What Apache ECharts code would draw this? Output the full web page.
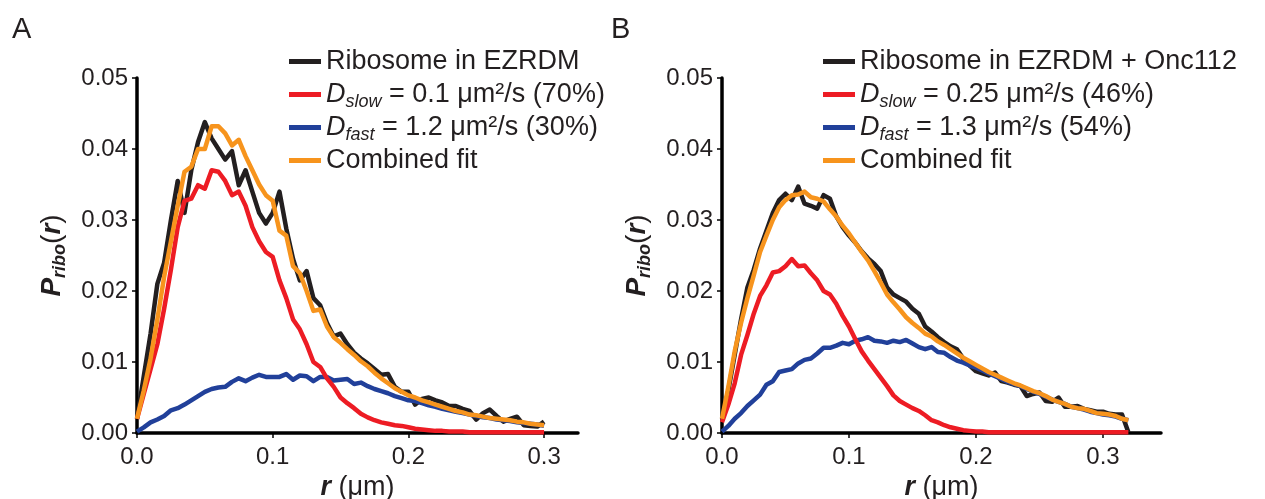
<!DOCTYPE html>
<html>
<head>
<meta charset="utf-8">
<script src="https://cdn.jsdelivr.net/npm/echarts@6/dist/echarts.min.js"></script>
<style>
  html, body { margin: 0; padding: 0; background: #fff; }
  #chart { width: 1265px; height: 499px; }
</style>
</head>
<body>
<div id="chart"></div>
<script>
// r 值 (μm)，步长 0.005
var rA = [0, 0.005, 0.01, 0.015, 0.02, 0.025, 0.03, 0.035, 0.04, 0.045,
  0.05, 0.055, 0.06, 0.065, 0.07, 0.075, 0.08, 0.085, 0.09, 0.095,
  0.1, 0.105, 0.11, 0.115, 0.12, 0.125, 0.13, 0.135, 0.14, 0.145,
  0.15, 0.155, 0.16, 0.165, 0.17, 0.175, 0.18, 0.185, 0.19, 0.195,
  0.2, 0.205, 0.21, 0.215, 0.22, 0.225, 0.23, 0.235, 0.24, 0.245,
  0.25, 0.255, 0.26, 0.265, 0.27, 0.275, 0.28, 0.285, 0.29, 0.295,
  0.3];
var rB = rA.concat([0.305, 0.31, 0.315, 0.32]);

// 面板 A: Ribosome in EZRDM
var ribosomeA = [0.002, 0.008, 0.014, 0.021, 0.024, 0.030, 0.0355, 0.031, 0.037, 0.041,
  0.0438, 0.0415, 0.040, 0.0385, 0.0397, 0.0349, 0.037, 0.034, 0.031, 0.0295,
  0.031, 0.034, 0.0288, 0.0245, 0.0215, 0.0228, 0.019, 0.018, 0.0155, 0.0136,
  0.014, 0.0125, 0.0113, 0.0105, 0.0098, 0.009, 0.0082, 0.0083, 0.0065, 0.0058,
  0.0058, 0.0040, 0.0048, 0.005, 0.0046, 0.0043, 0.0038, 0.0038, 0.0034, 0.0031,
  0.0019, 0.0028, 0.0033, 0.0024, 0.0016, 0.002, 0.0023, 0.0011, 0.001, 0.0009,
  0.0016];
var slowA = [0.002, 0.0055, 0.009, 0.0125, 0.0175, 0.023, 0.029, 0.0327, 0.033, 0.0349,
  0.0344, 0.037, 0.0368, 0.0355, 0.0335, 0.034, 0.032, 0.029, 0.027, 0.0255,
  0.0248, 0.0215, 0.019, 0.016, 0.0146, 0.0125, 0.010, 0.0093, 0.0077, 0.0065,
  0.005, 0.0042, 0.0035, 0.0027, 0.0022, 0.0018, 0.0015, 0.0013, 0.0011, 0.001,
  0.0008, 0.0006, 0.0005, 0.0004, 0.0003, 0.0003, 0.0002, 0.0002, 0.0002, 0.0001,
  0.0001, 0.0001, 0.0001, 0.0001, 0.0001, 0.0001, 0.0001, 0.0001, 0.0001, 0.0001,
  0.0001];
var fastA = [0.0002, 0.0008, 0.0015, 0.0019, 0.0024, 0.0032, 0.0035, 0.004, 0.0046, 0.0052,
  0.0058, 0.0062, 0.0064, 0.0065, 0.0072, 0.0077, 0.0073, 0.0078, 0.0082, 0.0079,
  0.0079, 0.0079, 0.0083, 0.0075, 0.0081, 0.008, 0.0073, 0.0079, 0.0079, 0.0074,
  0.0075, 0.0076, 0.0069, 0.0071, 0.0066, 0.0062, 0.0059, 0.0056, 0.0052, 0.0049,
  0.0046, 0.0045, 0.0042, 0.0039, 0.0037, 0.0034, 0.0032, 0.003, 0.0028, 0.0026,
  0.0024, 0.0022, 0.0021, 0.0019, 0.0018, 0.0017, 0.0015, 0.0014, 0.0013, 0.0012,
  0.001];
var fitA = [0.002, 0.006, 0.0105, 0.016, 0.022, 0.027, 0.032, 0.0368, 0.0375, 0.040,
  0.040, 0.0432, 0.0432, 0.0422, 0.0405, 0.0413, 0.039, 0.037, 0.035, 0.0335,
  0.0327, 0.0285, 0.0278, 0.0235, 0.0225, 0.020, 0.0172, 0.0174, 0.015, 0.0135,
  0.0127, 0.0118, 0.011, 0.0101, 0.0094, 0.0085, 0.0077, 0.007, 0.0063, 0.0058,
  0.0053, 0.005, 0.0046, 0.0043, 0.004, 0.0037, 0.0034, 0.0031, 0.0029, 0.0026,
  0.0025, 0.0023, 0.0021, 0.002, 0.0019, 0.0018, 0.0016, 0.0015, 0.0013, 0.0012,
  0.0011];

// 面板 B: Ribosome in EZRDM + Onc112
var ribosomeB = [0.002, 0.006, 0.011, 0.016, 0.0205, 0.023, 0.026, 0.0285, 0.031, 0.0328,
  0.0337, 0.0328, 0.0347, 0.0323, 0.032, 0.0316, 0.0335, 0.033, 0.0305, 0.029,
  0.0278, 0.0268, 0.0256, 0.0246, 0.0238, 0.0228, 0.0205, 0.0195, 0.019, 0.0185,
  0.0175, 0.0168, 0.015, 0.0143, 0.0135, 0.0128, 0.0122, 0.0118, 0.0105, 0.0095,
  0.0087, 0.0084, 0.0081, 0.0085, 0.0073, 0.0071, 0.0068, 0.0066, 0.0052, 0.0055,
  0.0057, 0.0045, 0.0044, 0.005, 0.0037, 0.0037, 0.0038, 0.0034, 0.0032, 0.003,
  0.003, 0.0027, 0.0026, 0.0026, 0.0001];
var slowB = [0.0015, 0.004, 0.007, 0.011, 0.0138, 0.0168, 0.0193, 0.0208, 0.0226, 0.0228,
  0.0235, 0.0245, 0.0235, 0.0236, 0.0225, 0.0215, 0.020, 0.0195, 0.0182, 0.0165,
  0.015, 0.0132, 0.0115, 0.0102, 0.009, 0.0078, 0.0066, 0.0053, 0.0045, 0.004,
  0.0035, 0.0031, 0.0025, 0.0018, 0.0015, 0.0011, 0.0008, 0.0006, 0.0004, 0.0003,
  0.0002, 0.0002, 0.0001, 0.0001, 0.0001, 0.0001, 0.0001, 0.0001, 0.0001, 0.0001,
  0.0001, 0.0001, 0.0001, 0.0001, 0.0001, 0.0001, 0.0001, 0.0001, 0.0001, 0.0001,
  0.0001, 0.0001, 0.0001, 0.0001, 0.0001];
var fastB = [0.0002, 0.001, 0.002, 0.0028, 0.0038, 0.0046, 0.0054, 0.0068, 0.0073, 0.0086,
  0.0088, 0.009, 0.0098, 0.0103, 0.0105, 0.0112, 0.012, 0.012, 0.0123, 0.0127,
  0.0125, 0.013, 0.0132, 0.0135, 0.013, 0.0129, 0.0127, 0.013, 0.0128, 0.0131,
  0.0126, 0.0121, 0.0118, 0.0121, 0.0114, 0.0113, 0.0107, 0.0102, 0.0099, 0.0095,
  0.0092, 0.0088, 0.0084, 0.008, 0.0076, 0.0072, 0.0069, 0.0066, 0.0062, 0.0058,
  0.0055, 0.0051, 0.0047, 0.0044, 0.0041, 0.0037, 0.0035, 0.0033, 0.003, 0.0028,
  0.0026, 0.0025, 0.0023, 0.002, 0.0018];
var fitB = [0.002, 0.0065, 0.0115, 0.0155, 0.019, 0.0222, 0.0255, 0.0278, 0.030, 0.0318,
  0.0328, 0.0335, 0.0336, 0.034, 0.0332, 0.033, 0.0326, 0.0315, 0.0305, 0.0292,
  0.0281, 0.0268, 0.0255, 0.0243, 0.0228, 0.0212, 0.0195, 0.0184, 0.0174, 0.0163,
  0.0155, 0.0148, 0.014, 0.0136, 0.0129, 0.0124, 0.0118, 0.0112, 0.0106, 0.0101,
  0.0096, 0.0091, 0.0086, 0.0082, 0.0078, 0.0074, 0.007, 0.0067, 0.0063, 0.0059,
  0.0056, 0.0052, 0.0047, 0.0044, 0.0041, 0.0037, 0.0035, 0.0034, 0.0031, 0.0028,
  0.0027, 0.0026, 0.0024, 0.002, 0.0018];

var xTicks = [0, 0.1, 0.2, 0.3];

var FONT = '"Liberation Sans", Arial, sans-serif';
var INK = '#231f20';
var colors = { black: '#231f20', red: '#ed1c24', blue: '#21409a', orange: '#f7941d' };

// 图例文字（含上下标）
var legendText = {
  'Ribosome in EZRDM': 'Ribosome in EZRDM',
  'Ribosome in EZRDM + Onc112': 'Ribosome in EZRDM + Onc112',
  'slowA': '{i|D}{sub|slow}{n| = 0.1 μm²/s (70%)}',
  'fastA': '{i|D}{sub|fast}{n| = 1.2 μm²/s (30%)}',
  'slowB': '{i|D}{sub|slow}{n| = 0.25 μm²/s (46%)}',
  'fastB': '{i|D}{sub|fast}{n| = 1.3 μm²/s (54%)}',
  'fitA': 'Combined fit',
  'fitB': 'Combined fit'
};

function pairs(xs, ys) {
  return xs.map(function (x, i) { return [x, ys[i]]; });
}

function makeLine(name, idx, xs, ys, color) {
  return {
    name: name,
    type: 'line',
    xAxisIndex: idx,
    yAxisIndex: idx,
    data: pairs(xs, ys),
    showSymbol: false,
    symbol: 'none',
    animation: false,
    itemStyle: { color: color },
    lineStyle: { color: color, width: 4.5, join: 'round' }
  };
}

function makeLegend(left, names) {
  var LH = 33;
  return {
    left: left,
    top: 45,
    orient: 'vertical',
    padding: 0,
    itemGap: 0,
    itemWidth: 32,
    itemHeight: 5,
    icon: 'rect',
    selectedMode: false,
    data: names,
    formatter: function (name) { return legendText[name]; },
    textStyle: {
      fontFamily: FONT, fontSize: 27, color: INK, lineHeight: LH,
      rich: {
        i: { fontFamily: FONT, fontSize: 27, fontStyle: 'italic', lineHeight: LH, color: INK },
        sub: { fontFamily: FONT, fontSize: 18, fontStyle: 'italic', lineHeight: LH, color: INK, verticalAlign: 'bottom' },
        n: { fontFamily: FONT, fontSize: 27, lineHeight: LH, color: INK }
      }
    }
  };
}

function makeXAxis(idx, max) {
  return {
    type: 'value',
    gridIndex: idx,
    min: 0,
    max: max,
    interval: 0.1,
    splitLine: { show: false },
    axisLine: { show: true, onZero: false, lineStyle: { color: '#000', width: 3.5 } },
    axisTick: { show: true, length: 5, lineStyle: { color: '#000', width: 1.5 }, customValues: xTicks },
    axisLabel: {
      fontFamily: FONT, fontSize: 24, color: INK, margin: 12,
      customValues: xTicks,
      formatter: function (v) { return v.toFixed(1); }
    },
    name: '{b|r}{n| (μm)}',
    nameLocation: 'middle',
    nameGap: 34,
    nameTextStyle: {
      rich: {
        b: { fontFamily: FONT, fontSize: 27, fontWeight: 'bold', fontStyle: 'italic', color: INK },
        n: { fontFamily: FONT, fontSize: 27, color: INK }
      }
    }
  };
}

function makeYAxis(idx) {
  var LH = 34;
  return {
    type: 'value',
    gridIndex: idx,
    min: 0,
    max: 0.05,
    interval: 0.01,
    splitLine: { show: false },
    axisLine: { show: true, onZero: false, lineStyle: { color: '#000', width: 3.5 } },
    axisTick: { show: true, length: 5, lineStyle: { color: '#000', width: 1.5 } },
    axisLabel: {
      fontFamily: FONT, fontSize: 24, color: INK, margin: 9,
      formatter: function (v) { return v.toFixed(2); }
    },
    name: '{b|P}{bs|ribo}{n|(}{b|r}{n|)}',
    nameLocation: 'middle',
    nameRotate: 90,
    nameGap: 68,
    nameTextStyle: {
      lineHeight: LH,
      rich: {
        b: { fontFamily: FONT, fontSize: 28, fontWeight: 'bold', fontStyle: 'italic', color: INK, lineHeight: LH },
        bs: { fontFamily: FONT, fontSize: 18, fontWeight: 'bold', fontStyle: 'italic', color: INK, lineHeight: LH, verticalAlign: 'bottom' },
        n: { fontFamily: FONT, fontSize: 28, color: INK, lineHeight: LH }
      }
    }
  };
}

var chart = echarts.init(document.getElementById('chart'), null, { renderer: 'canvas' });
chart.setOption({
  backgroundColor: '#ffffff',
  animation: false,
  title: [
    { text: 'A', left: 12, top: 15, padding: 0, textStyle: { fontFamily: FONT, fontSize: 29, fontWeight: 'normal', color: INK } },
    { text: 'B', left: 611, top: 15, padding: 0, textStyle: { fontFamily: FONT, fontSize: 29, fontWeight: 'normal', color: INK } }
  ],
  legend: [
    makeLegend(289, ['Ribosome in EZRDM', 'slowA', 'fastA', 'fitA']),
    makeLegend(823, ['Ribosome in EZRDM + Onc112', 'slowB', 'fastB', 'fitB'])
  ],
  grid: [
    { left: 137, top: 78, width: 441, height: 355, outerBoundsMode: 'none', containLabel: false },
    { left: 722, top: 78, width: 439, height: 355, outerBoundsMode: 'none', containLabel: false }
  ],
  xAxis: [makeXAxis(0, 0.325), makeXAxis(1, 0.3457)],
  yAxis: [makeYAxis(0), makeYAxis(1)],
  series: [
    makeLine('Ribosome in EZRDM', 0, rA, ribosomeA, colors.black),
    makeLine('fastA', 0, rA, fastA, colors.blue),
    makeLine('slowA', 0, rA, slowA, colors.red),
    makeLine('fitA', 0, rA, fitA, colors.orange),
    makeLine('Ribosome in EZRDM + Onc112', 1, rB, ribosomeB, colors.black),
    makeLine('fastB', 1, rB, fastB, colors.blue),
    makeLine('slowB', 1, rB, slowB, colors.red),
    makeLine('fitB', 1, rB, fitB, colors.orange)
  ]
});
</script>
</body>
</html>
